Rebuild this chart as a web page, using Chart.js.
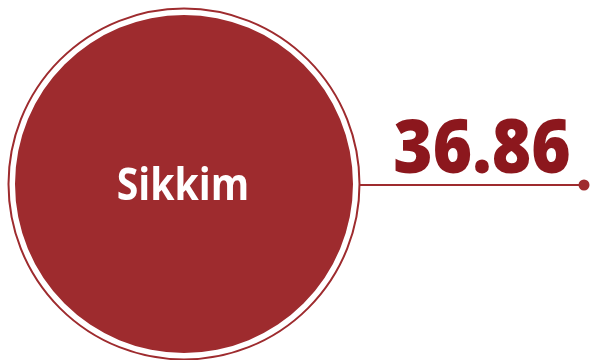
<!doctype html>
<html lang="en">
<head>
    <meta charset="UTF-8">
    <script src="https://cdn.jsdelivr.net/npm/chart.js"></script>
    <title>Sikkim</title>
    <style>
        body { margin: 0; background: #fff; }
        #wrap { width: 590px; height: 360px; }
    </style>
</head>
<body>
<div id="wrap"><canvas id="chart" width="590" height="360"></canvas></div>
<script>
    const categories = ['Sikkim'];
    const values = [36.86];

    const fillColor = '#9e2b2e';
    const textColor = '#8c171d';

    // draw text squeezed sideways, the original face is narrower than Open Sans
    function narrowText(ctx, text, cx, baseline, sx) {
        ctx.save();
        ctx.translate(cx, baseline);
        ctx.scale(sx, 1);
        ctx.textAlign = 'center';
        ctx.textBaseline = 'alphabetic';
        ctx.fillText(text, 0, 0);
        ctx.restore();
    }

    // ring, connector line, dot and the two labels, all placed off the pie arc
    const decor = {
        id: 'decor',
        afterDatasetsDraw(chart) {
            const ctx = chart.ctx;
            const arc = chart.getDatasetMeta(0).data[0];
            const x = arc.x, y = arc.y, r = arc.outerRadius;
            const ringR = r + 6.5;

            ctx.save();
            ctx.strokeStyle = fillColor;
            ctx.lineWidth = 2;
            ctx.beginPath();
            ctx.arc(x, y, ringR, 0, Math.PI * 2);
            ctx.stroke();

            const endX = 584;
            ctx.beginPath();
            ctx.moveTo(x + ringR, y + 1);
            ctx.lineTo(endX, y + 1);
            ctx.stroke();

            ctx.fillStyle = fillColor;
            ctx.beginPath();
            ctx.arc(endX, y + 1, 5.5, 0, Math.PI * 2);
            ctx.fill();

            ctx.fillStyle = '#fff';
            ctx.font = 'bold 45px "Open Sans"';
            narrowText(ctx, chart.data.labels[0], x - 1, y + 16, 0.87);

            ctx.fillStyle = textColor;
            ctx.font = '800 74px "Open Sans"';
            narrowText(ctx, chart.data.datasets[0].data[0].toFixed(2), 482, 173, 0.91);
            ctx.restore();
        }
    };

    new Chart(document.getElementById('chart').getContext('2d'), {
        type: 'pie',
        data: {
            labels: categories,
            datasets: [{
                data: values,
                backgroundColor: fillColor,
                borderWidth: 0,
                hoverBorderWidth: 0
            }]
        },
        options: {
            responsive: false,
            animation: false,
            layout: { padding: { left: 15, top: 15, right: 237, bottom: 7 } },
            plugins: {
                legend: { display: false },
                tooltip: { enabled: false }
            }
        },
        plugins: [decor]
    });
</script>
</body>
</html>
